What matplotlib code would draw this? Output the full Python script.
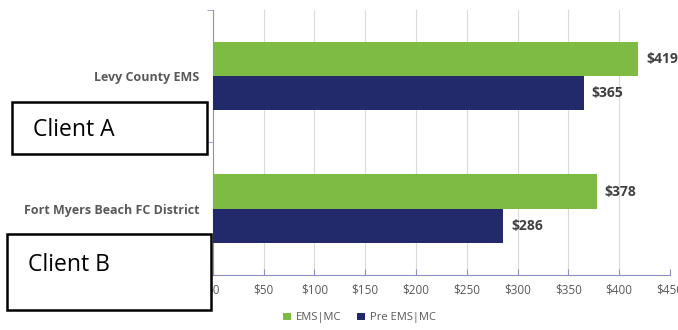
import matplotlib.pyplot as plt
from matplotlib.patches import Rectangle
from matplotlib.ticker import FixedLocator

categories = ["Fort Myers Beach FC District", "Levy County EMS"]
ems_mc = [378, 419]
pre_ems_mc = [286, 365]
series_names = ["EMS|MC", "Pre EMS|MC"]
x_ticks = [0, 50, 100, 150, 200, 250, 300, 350, 400, 450]
client_labels = ["Client A", "Client B"]

green = "#7DBB42"
navy = "#232A6B"
axis_col = "#8E90C4"

plt.rcParams['font.family'] = ['Open Sans', 'DejaVu Sans']

fig = plt.figure(figsize=(6.78, 3.30), dpi=100)
ax = fig.add_axes([0.314, 0.167, 0.674, 0.803])

h = 0.258
y = range(len(categories))
ax.barh([i + h / 2 for i in y], ems_mc, height=h, color=green, label=series_names[0], zorder=3)
ax.barh([i - h / 2 for i in y], pre_ems_mc, height=h, color=navy, label=series_names[1], zorder=3)

for i in y:
    ax.text(ems_mc[i] + 8, i + h / 2, "$%d" % ems_mc[i], va="center", ha="left",
            fontsize=10, fontweight="bold", color="#404040")
    ax.text(pre_ems_mc[i] + 8, i - h / 2, "$%d" % pre_ems_mc[i], va="center", ha="left",
            fontsize=10, fontweight="bold", color="#404040")

ax.set_xlim(0, 450)
ax.set_ylim(-0.5, 1.5)
ax.set_xticks(x_ticks)
ax.set_xticklabels(["$%d" % v for v in x_ticks], fontsize=8.5, color="#595959")
ax.set_yticks(list(y))
ax.set_yticklabels(categories, fontsize=9, fontweight="bold", color="#595959")
ax.tick_params(axis="y", length=0, pad=10)
ax.yaxis.set_minor_locator(FixedLocator([-0.5, 0.5, 1.5]))
ax.tick_params(axis="y", which="minor", length=4, color=axis_col)
ax.tick_params(axis="x", length=4, color=axis_col, direction="in", pad=6)

ax.grid(axis="x", color="#D9D9D9", linewidth=0.8, zorder=0)
for s in ["top", "right"]:
    ax.spines[s].set_visible(False)
ax.spines["left"].set_color(axis_col)
ax.spines["bottom"].set_color(axis_col)

leg = fig.legend(loc="lower center", bbox_to_anchor=(0.53, -0.01), ncol=2, frameon=False,
                 fontsize=8, handlelength=0.7, handleheight=0.7, columnspacing=1.5,
                 handletextpad=0.4)
for t in leg.get_texts():
    t.set_color("#595959")

# client overlay boxes (pixel coords of the figure)
boxes = [(12, 102, 195, 52), (7, 234, 204, 76)]
text_pos = [(33, 130), (28, 265)]
W, H = 678, 330
for lab, (bx, by, bw, bh), (tx, ty) in zip(client_labels, boxes, text_pos):
    fig.patches.append(Rectangle((bx / W, 1 - (by + bh) / H), bw / W, bh / H,
                                 transform=fig.transFigure, facecolor="white",
                                 edgecolor="black", linewidth=1.8, zorder=10))
    fig.text(tx / W, 1 - ty / H, lab, fontsize=16.5, va="center", ha="left",
             color="black", zorder=11)

fig.savefig("out.png", dpi=100)
